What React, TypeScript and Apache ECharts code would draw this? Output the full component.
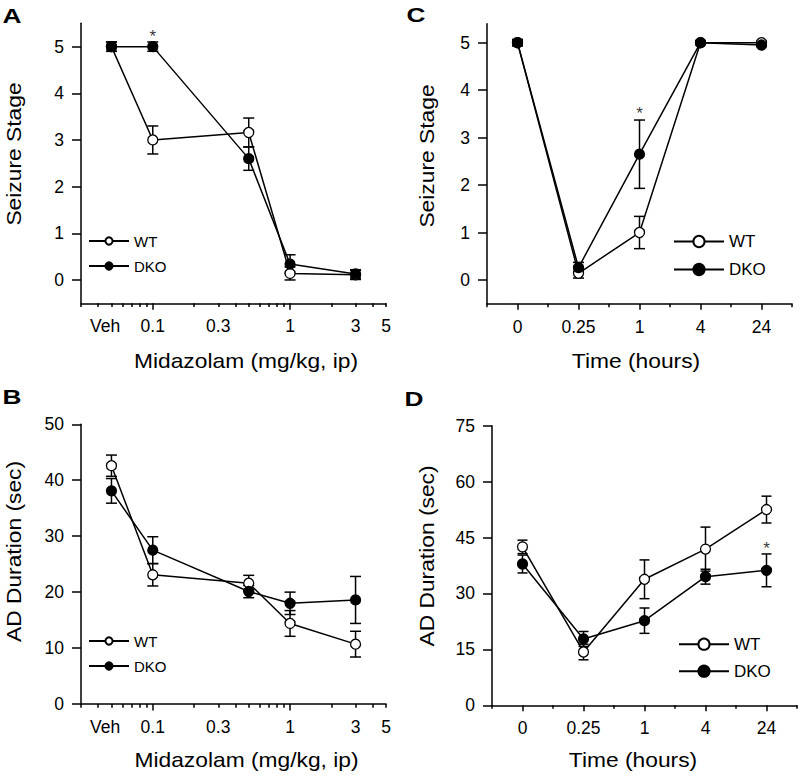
import React, { useEffect, useRef } from "react";
import * as echarts from "echarts";

const FONT = '"Liberation Sans", Arial, Helvetica, sans-serif';

// ---------- Panels A & B : Midazolam dose (mg/kg, ip); vehicle plotted at 0.05 ----------
const doseValues = [0.05, 0.1, 0.5, 1, 3];
const doseTickValues = [0.045, 0.1, 0.3, 1, 3, 5];
const doseTickLabels = ["Veh", "0.1", "0.3", "1", "3", "5"];
const doseMajorTicks = [0.1, 1];
const doseMinorTicks = [0.03, 0.04, 0.05, 0.06, 0.07, 0.08, 0.09, 0.2, 0.3, 0.4, 0.5, 0.6, 0.7, 0.8, 0.9, 2, 3, 4, 5];
const doseMin = 0.03;
const doseMax = 5;

// A: seizure stage vs dose
const seizureDoseWT = [5.0, 3.0, 3.16, 0.14, 0.11];
const seizureDoseWTErr = [0.1, 0.3, 0.31, 0.14, 0.1];
const seizureDoseDKO = [5.0, 5.0, 2.6, 0.34, 0.13];
const seizureDoseDKOErr = [0.1, 0.1, 0.25, 0.2, 0.09];
const starsA = [[0.1, 5.21]];

// B: AD duration vs dose
const adDoseWT = [42.6, 23.1, 21.6, 14.4, 10.7];
const adDoseWTErr = [1.9, 2.0, 1.4, 2.3, 2.3];
const adDoseDKO = [38.1, 27.5, 20.1, 18.0, 18.6];
const adDoseDKOErr = [2.2, 2.4, 1.1, 2.0, 4.2];

// ---------- Panels C & D : time after injection (hours) ----------
const timeLabels = ["0", "0.25", "1", "4", "24"];

// C: seizure stage vs time
const seizureTimeWT = [5.0, 0.14, 1.0, 5.0, 5.0];
const seizureTimeWTErr = [0.05, 0.1, 0.34, 0.03, 0.03];
const seizureTimeDKO = [5.0, 0.26, 2.65, 5.0, 4.95];
const seizureTimeDKOErr = [0.07, 0.11, 0.72, 0.03, 0.03];
const starsC = [[2, 3.5]];

// D: AD duration vs time
const adTimeWT = [42.5, 14.3, 33.8, 41.9, 52.5];
const adTimeWTErr = [1.8, 2.1, 5.2, 5.9, 3.6];
const adTimeDKO = [37.9, 17.8, 22.7, 34.5, 36.2];
const adTimeDKOErr = [2.4, 2.0, 3.4, 2.0, 4.4];
const starsD = [[4, 42.0]];

const stageTicks = [0, 1, 2, 3, 4, 5];

const lg = (v: number) => Math.log10(v);

function nearestLabel(v: number) {
  let best = 0;
  let bd = Infinity;
  doseTickValues.forEach((t, i) => {
    const d = Math.abs(lg(t) - v);
    if (d < bd) {
      bd = d;
      best = i;
    }
  });
  return doseTickLabels[best];
}

const axisLineStyle = { color: "#000", width: 1.5 };
const TICK_FS = 17.5;

function errorSeries(name: string, xi: number, yi: number, data: number[][], cap: number) {
  return {
    type: "custom",
    name,
    xAxisIndex: xi,
    yAxisIndex: yi,
    z: 1,
    silent: true,
    dimensions: ["x", "y", "e"],
    encode: { x: 0, y: 1 },
    data,
    renderItem: (_p: any, api: any) => {
      const x = api.value(0);
      const y = api.value(1);
      const e = api.value(2);
      const p1 = api.coord([x, y + e]);
      const p2 = api.coord([x, y - e]);
      const st = { stroke: "#000", lineWidth: 1.5 };
      return {
        type: "group",
        children: [
          { type: "line", shape: { x1: p1[0], y1: p1[1], x2: p2[0], y2: p2[1] }, style: st },
          { type: "line", shape: { x1: p1[0] - cap, y1: p1[1], x2: p1[0] + cap, y2: p1[1] }, style: st },
          { type: "line", shape: { x1: p2[0] - cap, y1: p2[1], x2: p2[0] + cap, y2: p2[1] }, style: st },
        ],
      };
    },
  };
}

function lineSeries(name: string, xi: number, yi: number, data: number[][], filled: boolean, z: number) {
  return {
    type: "line",
    name,
    xAxisIndex: xi,
    yAxisIndex: yi,
    z,
    data,
    symbol: "circle",
    symbolSize: 10,
    showSymbol: true,
    lineStyle: { color: "#000", width: 1.5 },
    itemStyle: { color: filled ? "#000" : "#fff", borderColor: "#000", borderWidth: 1.3 },
    emphasis: { disabled: true },
  };
}

function starSeries(xi: number, yi: number, data: number[][]) {
  return {
    type: "scatter",
    name: "sig",
    xAxisIndex: xi,
    yAxisIndex: yi,
    z: 5,
    silent: true,
    symbolSize: 1,
    itemStyle: { color: "rgba(0,0,0,0)" },
    data,
    label: {
      show: true,
      formatter: "*",
      position: "inside",
      color: "#000",
      fontSize: 17,
      fontFamily: FONT,
    },
    emphasis: { disabled: true },
  };
}

function doseXAxes(gridIndex: number) {
  return [
    {
      type: "value",
      gridIndex,
      position: "bottom",
      min: lg(doseMin),
      max: lg(doseMax),
      splitLine: { show: false },
      axisLine: { show: true, onZero: false, lineStyle: axisLineStyle },
      axisTick: { show: true, customValues: doseMajorTicks.map(lg), length: 6.5, lineStyle: axisLineStyle },
      axisLabel: {
        show: true,
        customValues: doseTickValues.map(lg),
        formatter: (v: number) => nearestLabel(v),
        margin: 14,
        fontSize: TICK_FS,
        fontFamily: FONT,
        color: "#000",
      },
    },
    {
      type: "value",
      gridIndex,
      position: "bottom",
      min: lg(doseMin),
      max: lg(doseMax),
      splitLine: { show: false },
      axisLine: { show: false, onZero: false },
      axisTick: { show: true, customValues: doseMinorTicks.map(lg), length: 3.8, lineStyle: axisLineStyle },
      axisLabel: { show: false },
    },
  ];
}

function timeXAxes(gridIndex: number) {
  return [
    {
      type: "category",
      gridIndex,
      position: "bottom",
      data: timeLabels,
      boundaryGap: true,
      splitLine: { show: false },
      axisLine: { show: true, onZero: false, lineStyle: axisLineStyle },
      axisTick: { show: true, alignWithLabel: true, interval: 0, length: 6, lineStyle: axisLineStyle },
      axisLabel: { show: true, interval: 0, margin: 14, fontSize: TICK_FS, fontFamily: FONT, color: "#000" },
    },
    {
      type: "category",
      gridIndex,
      position: "bottom",
      data: timeLabels,
      boundaryGap: true,
      splitLine: { show: false },
      axisLine: { show: false, onZero: false },
      axisTick: { show: true, alignWithLabel: false, interval: 0, length: 3.5, lineStyle: axisLineStyle },
      axisLabel: { show: false },
    },
  ];
}

function yAxisStage(gridIndex: number, max: number) {
  return {
    type: "value",
    gridIndex,
    min: -0.5,
    max,
    splitLine: { show: false },
    axisLine: { show: true, onZero: false, lineStyle: axisLineStyle },
    axisTick: { show: true, customValues: stageTicks, length: 9, lineStyle: axisLineStyle },
    axisLabel: {
      show: true,
      customValues: stageTicks,
      margin: 17,
      fontSize: TICK_FS,
      fontFamily: FONT,
      color: "#000",
    },
  };
}

function yAxisDuration(gridIndex: number, max: number, interval: number) {
  return {
    type: "value",
    gridIndex,
    min: 0,
    max,
    interval,
    splitLine: { show: false },
    axisLine: { show: true, onZero: false, lineStyle: axisLineStyle },
    axisTick: { show: true, length: 9, lineStyle: axisLineStyle },
    axisLabel: { show: true, margin: 17, fontSize: TICK_FS, fontFamily: FONT, color: "#000" },
  };
}

function zipDose(vals: number[], errs?: number[]) {
  return doseValues.map((d, i) => (errs ? [lg(d), vals[i], errs[i]] : [lg(d), vals[i]]));
}
function zipTime(vals: number[], errs?: number[]) {
  return timeLabels.map((_t, i) => (errs ? [i, vals[i], errs[i]] : [i, vals[i]]));
}

function legendAt(left: number, top: number, w: number, h: number, gap: number, fs: number) {
  return {
    data: ["WT", "DKO"],
    orient: "vertical",
    left,
    top,
    itemWidth: w,
    itemHeight: h,
    itemGap: gap,
    selectedMode: false,
    padding: 0,
    textStyle: { fontSize: fs, fontFamily: FONT, color: "#000" },
  };
}

function txt(text: string, x: number, y: number, size: number, opts: any = {}) {
  return {
    type: "text",
    x,
    y,
    rotation: opts.rotation || 0,
    scaleX: opts.scaleX || 1.14,
    silent: true,
    style: {
      text,
      fill: "#000",
      fontSize: size,
      fontFamily: FONT,
      fontWeight: opts.bold ? "bold" : "normal",
      align: "center",
      verticalAlign: "middle",
    },
  };
}

export default function App() {
  const ref = useRef<HTMLDivElement>(null);

  useEffect(() => {
    document.body.style.margin = "0";
    if (!ref.current) return;
    const chart = echarts.init(ref.current, null, { renderer: "svg" });

    const xA = doseXAxes(0); // axes 0,1
    const xB = doseXAxes(1); // axes 2,3
    const xC = timeXAxes(2); // axes 4,5
    const xD = timeXAxes(3); // axes 6,7

    const option: any = {
      animation: false,
      backgroundColor: "#fff",
      textStyle: { fontFamily: FONT },
      grid: [
        { left: 81, top: 23.3, width: 305, height: 280, outerBoundsMode: "none" },
        { left: 81, top: 424.3, width: 305, height: 279.7, outerBoundsMode: "none" },
        { left: 487, top: 23.7, width: 305, height: 280, outerBoundsMode: "none" },
        { left: 492, top: 425.7, width: 305, height: 279.6, outerBoundsMode: "none" },
      ],
      xAxis: [...xA, ...xB, ...xC, ...xD],
      yAxis: [
        yAxisStage(0, 5.5),
        yAxisDuration(1, 50, 10),
        yAxisStage(2, 5.4),
        yAxisDuration(3, 75, 15),
      ],
      legend: [
        legendAt(88, 233.5, 40, 9, 10, 15),
        legendAt(88, 633.5, 40, 9, 10, 15),
        legendAt(673, 233, 50, 14, 11, 17),
        legendAt(678, 635.7, 50, 14, 10, 17),
      ],
      series: [
        // A
        errorSeries("WT-errA", 0, 0, zipDose(seizureDoseWT, seizureDoseWTErr), 5.5),
        errorSeries("DKO-errA", 0, 0, zipDose(seizureDoseDKO, seizureDoseDKOErr), 5.5),
        lineSeries("WT", 0, 0, zipDose(seizureDoseWT), false, 2),
        lineSeries("DKO", 0, 0, zipDose(seizureDoseDKO), true, 3),
        starSeries(0, 0, starsA.map((s) => [lg(s[0]), s[1]])),
        // B
        errorSeries("WT-errB", 2, 1, zipDose(adDoseWT, adDoseWTErr), 5.5),
        errorSeries("DKO-errB", 2, 1, zipDose(adDoseDKO, adDoseDKOErr), 5.5),
        lineSeries("WT", 2, 1, zipDose(adDoseWT), false, 2),
        lineSeries("DKO", 2, 1, zipDose(adDoseDKO), true, 3),
        // C
        errorSeries("WT-errC", 4, 2, zipTime(seizureTimeWT, seizureTimeWTErr), 5.5),
        errorSeries("DKO-errC", 4, 2, zipTime(seizureTimeDKO, seizureTimeDKOErr), 5.5),
        lineSeries("WT", 4, 2, zipTime(seizureTimeWT), false, 2),
        lineSeries("DKO", 4, 2, zipTime(seizureTimeDKO), true, 3),
        starSeries(4, 2, starsC),
        // D
        errorSeries("WT-errD", 6, 3, zipTime(adTimeWT, adTimeWTErr), 5),
        errorSeries("DKO-errD", 6, 3, zipTime(adTimeDKO, adTimeDKOErr), 5),
        lineSeries("WT", 6, 3, zipTime(adTimeWT), false, 2),
        lineSeries("DKO", 6, 3, zipTime(adTimeDKO), true, 3),
        starSeries(6, 3, starsD),
      ],
      graphic: [
        txt("A", 12, 15.5, 21, { bold: true, scaleX: 1.25 }),
        txt("B", 12, 396, 21, { bold: true, scaleX: 1.25 }),
        txt("C", 416, 14.5, 21, { bold: true, scaleX: 1.25 }),
        txt("D", 414, 398, 21, { bold: true, scaleX: 1.25 }),
        txt("Midazolam (mg/kg, ip)", 246, 361, 20),
        txt("Midazolam (mg/kg, ip)", 246.5, 760, 20),
        txt("Time (hours)", 636, 361, 20),
        txt("Time (hours)", 633, 760, 20),
        txt("Seizure Stage", 14, 154, 20, { rotation: Math.PI / 2 }),
        txt("AD Duration (sec)", 14.5, 551.5, 20, { rotation: Math.PI / 2 }),
        txt("Seizure Stage", 427, 156, 20, { rotation: Math.PI / 2 }),
        txt("AD Duration (sec)", 427, 556, 20, { rotation: Math.PI / 2 }),
      ],
    };

    chart.setOption(option);
    return () => {
      chart.dispose();
    };
  }, []);

  return <div ref={ref} style={{ width: 800, height: 776 }} />;
}
